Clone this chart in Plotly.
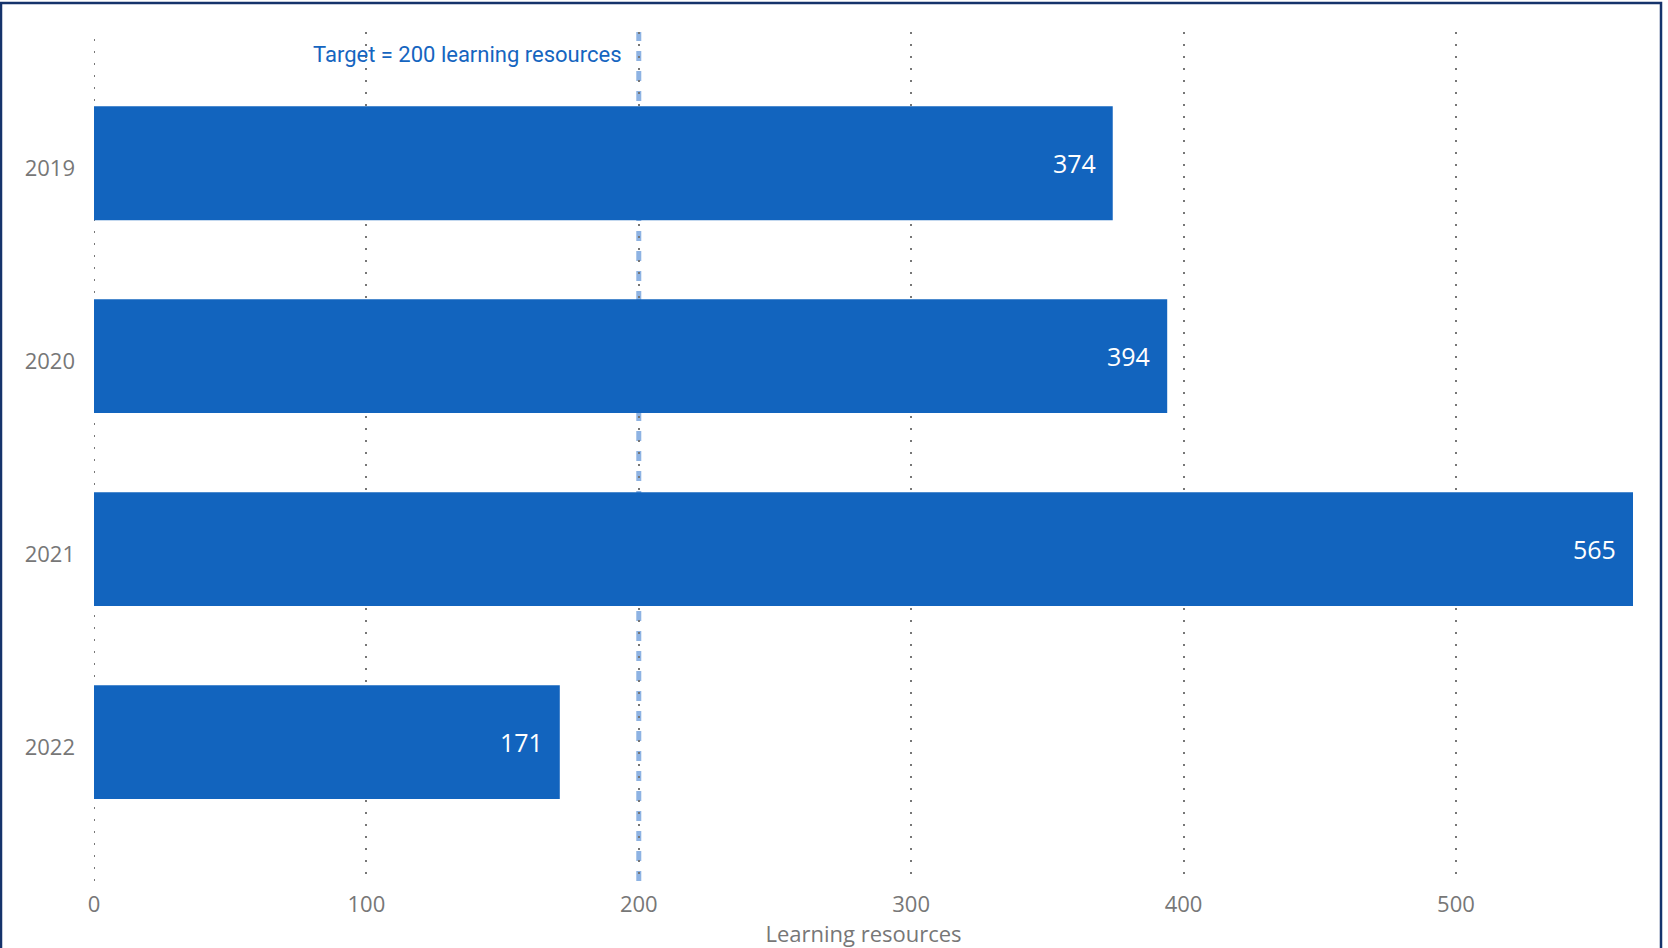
import plotly.graph_objects as go

years = ["2019", "2020", "2021", "2022"]
resources = [374, 394, 565, 171]
target_value = 200
target_label = "Target = 200 learning resources"
x_ticks = [0, 100, 200, 300, 400, 500]
x_title = "Learning resources"

W, H = 1668, 948
ml, mr, mt, mb = 94, 35, 32, 65
pw, ph = W - ml - mr, H - mt - mb

bar_color = "#1264be"
grid_color = "#777777"
font_main = "Segoe UI, Open Sans, Noto Sans, sans-serif"

fig = go.Figure()
fig.add_trace(go.Bar(
    y=years, x=resources, orientation="h",
    marker=dict(color=bar_color, line=dict(width=0)),
    hoverinfo="x+y",
))

for i, v in enumerate(resources):
    fig.add_annotation(x=v, y=i, xref="x", yref="y", text=str(v), showarrow=False,
                       xanchor="right", yanchor="middle", xshift=-15,
                       font=dict(family=font_main, size=25, color="white"))

# gridline at the axis origin (plotly omits it on the range edge)
fig.add_shape(type="line", x0=x_ticks[0], x1=x_ticks[0], y0=0, y1=1,
              xref="x", yref="paper", layer="below",
              line=dict(color=grid_color, width=2, dash="2px,10px"))

fig.add_shape(type="line", x0=target_value, x1=target_value, y0=0, y1=1,
              xref="x", yref="paper", layer="below",
              line=dict(color="#8eb3e3", width=5, dash="10px,10px"))
fig.add_annotation(x=target_value, y=(H - mb - 55) / ph, xref="x", yref="paper",
                   text=target_label, showarrow=False, xanchor="right", yanchor="middle",
                   xshift=-15,
                   font=dict(family="Roboto, sans-serif", size=22, color="#1565c0"))

# outer border
fig.add_shape(type="rect", xref="paper", yref="paper",
              x0=(1 - ml) / pw, x1=(1661 - ml) / pw,
              y0=(H - mb - 960) / ph, y1=(H - mb - 3) / ph,
              line=dict(color="#15336b", width=2.5), fillcolor="rgba(0,0,0,0)", layer="above")

fig.update_layout(
    width=W, height=H,
    margin=dict(l=ml, r=mr, t=mt, b=mb),
    paper_bgcolor="white", plot_bgcolor="white",
    bargap=0.41, showlegend=False,
    font=dict(family=font_main, color="#777777"),
    xaxis=dict(range=[0, 565], tickvals=x_ticks, showgrid=True,
               gridcolor=grid_color, gridwidth=2, griddash="2px,10px",
               zeroline=False, showline=False, ticks="",
               tickfont=dict(size=22, color="#777777"), ticklabelstandoff=8,
               title=dict(text=x_title, font=dict(size=22, color="#777777"), standoff=3)),
    yaxis=dict(type="category", categoryorder="array", categoryarray=years,
               range=[3.72, -0.68],
               showgrid=False, zeroline=False, showline=False, ticks="",
               tickfont=dict(size=22, color="#777777"), ticklabelstandoff=18,
               ticklabelshift=-5),
)

fig.write_html("out.html")
